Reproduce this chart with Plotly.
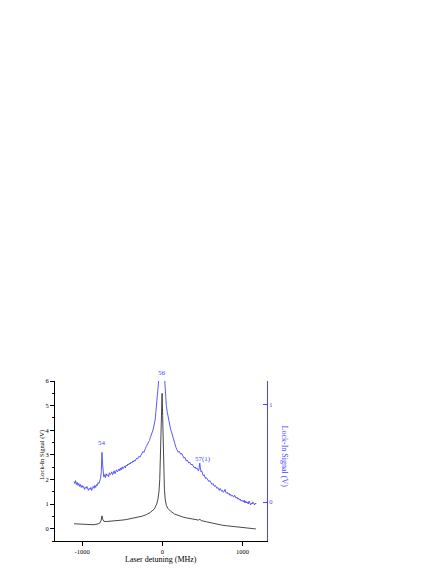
import plotly.graph_objects as go

# Black trace (left axis, V)
black_x = [-1100, -1050, -1000, -950, -900, -850, -800, -775, -762, -752, -742, -728,
           -700, -650, -600, -550, -500, -450, -400, -350, -300, -250, -200, -150,
           -100, -70, -55, -42, -32, -24, -16, -8, -3, 4, 10, 18, 26, 36, 50, 70,
           100, 150, 200, 250, 300, 350, 400, 450, 468, 485, 550, 600, 650, 700,
           750, 800, 850, 900, 950, 1000, 1050, 1100, 1165]
black_y = [0.20, 0.19, 0.18, 0.16, 0.15, 0.16, 0.20, 0.24, 0.34, 0.52, 0.38, 0.30,
           0.29, 0.30, 0.31, 0.33, 0.35, 0.37, 0.40, 0.42, 0.46, 0.51, 0.57, 0.66,
           0.80, 1.00, 1.20, 1.50, 2.00, 2.80, 3.80, 5.00, 5.50, 4.60, 3.40, 2.30,
           1.60, 1.20, 0.95, 0.82, 0.72, 0.60, 0.53, 0.48, 0.44, 0.41, 0.38, 0.35,
           0.38, 0.33, 0.28, 0.24, 0.20, 0.17, 0.14, 0.12, 0.10, 0.08, 0.06, 0.04,
           0.02, 0.01, -0.01]

# Blue trace (right axis, V)
blue_x = [-1100, -1090, -1080, -1070, -1060, -1050, -1040, -1030, -1020, -1010,
          -1000, -990, -980, -970, -960, -950, -940, -930, -920, -910,
          -900, -890, -880, -870, -860, -850, -840, -830, -820, -810,
          -800, -790, -780, -770, -760, -752, -745, -738, -730, -720,
          -710, -700, -690, -680, -670, -660, -650, -640, -630, -620,
          -610, -600, -590, -580, -570, -560, -550, -540, -530, -520,
          -510, -500, -490, -480, -470, -460, -450, -440, -430, -420,
          -410, -400, -390, -380, -370, -360, -350, -340, -330, -320,
          -310, -300, -290, -280, -270, -260, -250, -240, -230, -220,
          -210, -200, -190, -180, -170, -160, -150, -140, -130, -120,
          -110, -100, -90, -80, -70, -60, -50, -42, -30, -15,
          0, 12, 22, 30, 40, 50, 60, 70, 80, 90,
          100, 110, 120, 130, 140, 150, 160, 170, 180, 190,
          200, 210, 220, 230, 240, 250, 260, 270, 280, 290,
          300, 310, 320, 330, 340, 350, 360, 370, 380, 390,
          400, 410, 420, 430, 440, 450, 458, 466, 474, 482,
          490, 500, 510, 520, 530, 540, 550, 560, 570, 580,
          590, 600, 610, 620, 630, 640, 650, 660, 670, 680,
          690, 700, 710, 720, 730, 740, 750, 760, 770, 780,
          790, 800, 810, 820, 830, 840, 850, 860, 870, 880,
          890, 900, 910, 920, 930, 940, 950, 960, 970, 980,
          990, 1000, 1010, 1020, 1030, 1040, 1050, 1060, 1070, 1080,
          1090, 1100, 1110, 1120, 1130, 1140, 1150, 1160, 1170]
blue_y = [0.21, 0.19, 0.22, 0.18, 0.20, 0.17, 0.19, 0.16, 0.18, 0.15,
          0.17, 0.15, 0.16, 0.13, 0.15, 0.14, 0.16, 0.13, 0.12, 0.14,
          0.13, 0.15, 0.12, 0.14, 0.16, 0.14, 0.17, 0.15, 0.18, 0.17,
          0.20, 0.19, 0.22, 0.24, 0.31, 0.51, 0.40, 0.29, 0.26, 0.28,
          0.25, 0.29, 0.27, 0.28, 0.26, 0.30, 0.28, 0.29, 0.31, 0.28,
          0.30, 0.32, 0.29, 0.31, 0.33, 0.31, 0.32, 0.34, 0.32, 0.35,
          0.33, 0.36, 0.34, 0.36, 0.37, 0.35, 0.38, 0.37, 0.39, 0.38,
          0.40, 0.39, 0.41, 0.40, 0.42, 0.41, 0.43, 0.42, 0.44, 0.45,
          0.44, 0.46, 0.47, 0.46, 0.48, 0.49, 0.50, 0.52, 0.51, 0.54,
          0.55, 0.57, 0.58, 0.60, 0.62, 0.63, 0.66, 0.68, 0.71, 0.73,
          0.76, 0.80, 0.84, 0.93, 1.00, 1.10, 1.20, 1.30, 1.60, 2.00,
          2.20, 1.80, 1.35, 1.20, 1.08, 0.99, 0.93, 0.88, 0.84, 0.80,
          0.76, 0.73, 0.70, 0.66, 0.63, 0.60, 0.58, 0.56, 0.54, 0.53,
          0.51, 0.52, 0.50, 0.49, 0.50, 0.48, 0.47, 0.45, 0.46, 0.44,
          0.42, 0.43, 0.41, 0.40, 0.41, 0.39, 0.38, 0.39, 0.37, 0.36,
          0.35, 0.36, 0.34, 0.35, 0.33, 0.32, 0.34, 0.40, 0.35, 0.31,
          0.32, 0.29, 0.27, 0.28, 0.26, 0.24, 0.25, 0.23, 0.22, 0.21,
          0.22, 0.20, 0.19, 0.18, 0.19, 0.17, 0.16, 0.17, 0.15, 0.14,
          0.15, 0.13, 0.12, 0.14, 0.12, 0.11, 0.12, 0.10, 0.11, 0.13,
          0.10, 0.09, 0.10, 0.08, 0.09, 0.07, 0.08, 0.06, 0.07, 0.06,
          0.05, 0.07, 0.06, 0.04, 0.05, 0.03, 0.04, 0.02, 0.03, 0.01,
          0.02, 0.01, 0.00, 0.02, -0.01, 0.01, -0.01, 0.00, -0.02, 0.01,
          -0.01, -0.03, -0.01, -0.02, 0.00, -0.02, -0.03, -0.01, -0.02]

# Peak labels (x in MHz, y as fraction of plot height)
peak_names = ["56", "54", "57(1)"]
peak_x = [0, -750, 510]
peak_y = [1.052, 0.612, 0.511]

x_ticks = [-1000, 0, 1000]
x_ticktext = ["-1000", "0", "1000"]

BLUE = "#4646FF"
FONT = "Liberation Serif"

fig = go.Figure()

fig.add_trace(go.Scatter(
    x=black_x, y=black_y, mode="lines",
    line=dict(color="#333333", width=0.9),
    showlegend=False,
))
fig.add_trace(go.Scatter(
    x=blue_x, y=blue_y, mode="lines", yaxis="y2",
    line=dict(color=BLUE, width=0.9),
    showlegend=False,
))

for name, px, py in zip(peak_names, peak_x, peak_y):
    fig.add_annotation(x=px, y=py, xref="x", yref="paper", text=name, showarrow=False,
                       xanchor="center", yanchor="middle",
                       font=dict(family=FONT, size=7, color=BLUE))

# Axis titles as annotations to keep exact placement
fig.add_annotation(x=-0.061, y=0.54, xref="paper", yref="paper", text="Lock-In Signal (V)",
                   textangle=-90, showarrow=False, xanchor="center", yanchor="middle",
                   font=dict(family=FONT, size=6.5, color="black"))
fig.add_annotation(x=1.083, y=0.53, xref="paper", yref="paper", text="Lock-In Signal (V)",
                   textangle=90, showarrow=False, xanchor="center", yanchor="middle",
                   font=dict(family=FONT, size=8, color=BLUE))
fig.add_annotation(x=0.5, y=-0.115, xref="paper", yref="paper", text="Laser detuning (MHz)",
                   showarrow=False, xanchor="center", yanchor="middle",
                   font=dict(family=FONT, size=8, color="black"))

# page body adds an 8px margin, so the figure is drawn 8px smaller and shifted
fig.update_layout(
    width=439, height=570,
    margin=dict(l=47, r=180, t=373, b=37, pad=0),
    paper_bgcolor="white", plot_bgcolor="white",
    font=dict(family=FONT, size=6.5, color="black"),
    showlegend=False,
    xaxis=dict(
        range=[-1337, 1304], showgrid=False, zeroline=False,
        showline=True, linecolor="black", linewidth=1,
        ticks="outside", ticklen=4, tickcolor="black", tickwidth=1,
        tickvals=x_ticks, ticktext=x_ticktext,
    ),
    yaxis=dict(
        range=[-0.5, 6], showgrid=False, zeroline=False,
        showline=True, linecolor="black", linewidth=1,
        ticks="outside", ticklen=4, tickcolor="black", tickwidth=1,
        dtick=1, tick0=0,
        minor=dict(ticks="outside", ticklen=2, dtick=0.5, tick0=0, tickcolor="black"),
    ),
    yaxis2=dict(
        overlaying="y", side="right",
        range=[-0.40, 1.242], showgrid=False, zeroline=False,
        showline=True, linecolor=BLUE, linewidth=1,
        ticks="inside", ticklen=4, tickcolor=BLUE, tickwidth=1,
        tickvals=[0, 1], ticktext=["0", "1"],
        tickfont=dict(color=BLUE),
    ),
)

fig.write_html("out.html")
